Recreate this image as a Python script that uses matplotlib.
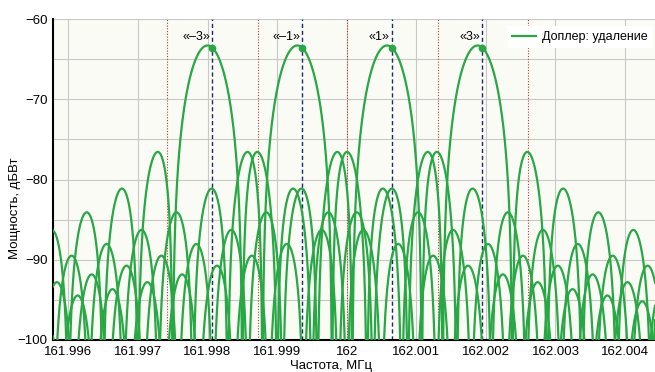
import numpy as np
import matplotlib
matplotlib.use('Agg')
from matplotlib import pyplot as plt
from matplotlib.ticker import MultipleLocator

plt.rcParams['font.family'] = ['Liberation Sans', 'DejaVu Sans']

# Tone spectra (rectangular pulse -> sinc^2), frequencies in MHz
tone_labels = ['«–3»', '«–1»', '«1»', '«3»']
nominal_mhz = [161.99807, 161.99936, 162.00065, 162.00195]   # blue dashed marks
received_mhz = [161.99800, 161.99929, 162.00058, 162.00188]  # shifted spectra peaks
even_mhz = [161.99742, 161.99872, 162.00001, 162.00131, 162.00260]  # red dotted marks
peak_dbw = -63.3
null_width_mhz = 0.0005  # 1/T, T = 2 ms

xticks = [161.996, 161.997, 161.998, 161.999, 162.0, 162.001, 162.002, 162.003, 162.004]
xticklabels = ['161.996', '161.997', '161.998', '161.999', '162',
               '162.001', '162.002', '162.003', '162.004']
yticks = [-100, -90, -80, -70, -60]

green = '#27a844'

fig = plt.figure(figsize=(6.55, 3.72), dpi=100)
ax = fig.add_axes([53/655, 1 - 340/372, 1 - 53/655, 321/372])
ax.set_facecolor('#fbfbf6')

f = np.linspace(161.9955, 162.0047, 20000)
def spectrum(freq, fc):
    s = np.abs(np.sinc((freq - fc) / null_width_mhz))
    return peak_dbw + 20 * np.log10(np.maximum(s, 1e-9))

for i, fc in enumerate(received_mhz):
    ax.plot(f, spectrum(f, fc), color=green, lw=1.6, zorder=3,
            label='Доплер: удаление' if i == 0 else None)

for fr in even_mhz:
    ax.axvline(fr, color='#c0392b', lw=0.8, ls=(0, (1, 1.5)), zorder=2)

for fr, fc, lab in zip(nominal_mhz, received_mhz, tone_labels):
    ax.axvline(fr, color='#1c2a6b', lw=1.0, ls=(0, (3, 2)), zorder=2)
    ax.plot(fr, spectrum(np.array([fr]), fc)[0], 'o', color=green, ms=4.5, zorder=4)
    ax.text(fr - 0.00003, -62.2, lab, ha='right', va='center', fontsize=9)

ax.set_xlim(161.99578, 162.00443)
ax.set_ylim(-100, -60)
ax.set_xticks(xticks)
ax.set_xticklabels(xticklabels)
ax.set_yticks(yticks)
ax.yaxis.set_minor_locator(MultipleLocator(5))
ax.tick_params(axis='both', which='both', length=0, labelsize=9.5, pad=4)
ax.grid(True, which='major', color='#c8c8c8', lw=0.8)
ax.grid(True, which='minor', axis='y', color='#c8c8c8', lw=0.8)
ax.set_axisbelow(True)

for side in ('top', 'right'):
    ax.spines[side].set_visible(False)
for side in ('left', 'bottom'):
    ax.spines[side].set_linewidth(1.5)
    ax.spines[side].set_color('black')

fig.text(15/655, 1 - 208/372, 'Мощность, дБВт', rotation=90, ha='center', va='center', fontsize=9.5)
fig.text(331/655, 1 - 366/372, 'Частота, МГц', ha='center', va='center', fontsize=9.5)

leg = ax.legend(loc='upper right', bbox_to_anchor=(1.0, 0.985), fontsize=9,
                frameon=True, fancybox=False, handlelength=1.9, handletextpad=0.5,
                borderaxespad=0.2)
leg.get_frame().set_facecolor('white')
leg.get_frame().set_edgecolor('none')
leg.get_frame().set_alpha(1.0)

fig.savefig('out.png', dpi=100)
